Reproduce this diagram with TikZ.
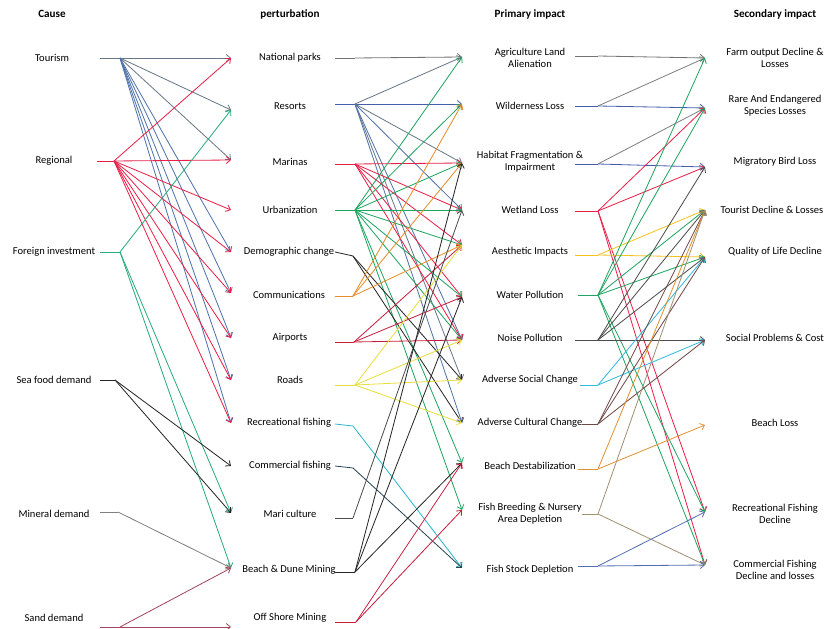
\documentclass[tikz,border=0pt]{standalone}
\usepackage{fontspec}
\setmainfont{Carlito}
\usetikzlibrary{arrows.meta}
\definecolor{tourgray}{RGB}{105,120,135}
\definecolor{tourblue}{RGB}{80,115,170}
\definecolor{regred}{RGB}{232,32,72}
\definecolor{fgreen}{RGB}{40,172,122}
\definecolor{sandred}{RGB}{165,70,92}
\definecolor{urbgreen}{RGB}{30,165,95}
\definecolor{commorange}{RGB}{230,140,40}
\definecolor{airred}{RGB}{200,30,62}
\definecolor{roadyellow}{RGB}{232,222,60}
\definecolor{reccyan}{RGB}{40,182,200}
\definecolor{comdark}{RGB}{40,70,82}
\definecolor{wildblue}{RGB}{72,92,172}
\definecolor{aesyellow}{RGB}{245,195,30}
\definecolor{socblue}{RGB}{50,185,225}
\definecolor{culbrown}{RGB}{112,72,72}
\definecolor{destorange}{RGB}{225,145,50}
\definecolor{breedtan}{RGB}{160,145,115}
\definecolor{stockblue}{RGB}{85,110,178}
\begin{document}
\begin{tikzpicture}[x=0.03cm, y=-0.03cm, font=\fontsize{9}{10.5}\selectfont,
  lbl/.style={align=center, inner sep=1pt},
  hdr/.style={inner sep=1pt, font=\fontsize{9.5}{11}\selectfont\bfseries},
  every edge/.style={draw, line width=0.7pt, -{Straight Barb[length=3.5pt,width=6pt]}},
  every path/.style={line width=0.7pt}]
  \useasboundingbox (0,0) rectangle (827,629);
  % column heads
  \node[hdr] (hc) at (52,14)  {Cause};
  \node[hdr] (hp) at (290,14) {perturbation};
  \node[hdr] (hi) at (530,14) {Primary impact};
  \node[hdr] (hs) at (775,14) {Secondary impact};
  % causes
  \node[lbl] (c1) at (52,58)  {Tourism};
  \node[lbl] (c2) at (54,161) {Regional};
  \node[lbl] (c3) at (54,252) {Foreign investment};
  \node[lbl] (c4) at (54,380) {Sea food demand};
  \node[lbl] (c5) at (54,514) {Mineral demand};
  \node[lbl] (c6) at (54,618) {Sand demand};
  \coordinate (c1b) at (120,58);  \coordinate (c2b) at (114,161);
  \coordinate (c3b) at (120,252); \coordinate (c4b) at (115,380);
  \coordinate (c5b) at (118,512); \coordinate (c6b) at (120,627);
  % perturbations
  \node[lbl] (p1)  at (290,58)  {National parks};
  \node[lbl] (p2)  at (290,106) {Resorts};
  \node[lbl] (p3)  at (290,162) {Marinas};
  \node[lbl] (p4)  at (290,210) {Urbanization};
  \node[lbl] (p5)  at (289,252) {Demographic change};
  \node[lbl] (p6)  at (289,295) {Communications};
  \node[lbl] (p7)  at (290,338) {Airports};
  \node[lbl] (p8)  at (290,380) {Roads};
  \node[lbl] (p9)  at (289,423) {Recreational fishing};
  \node[lbl] (p10) at (290,466) {Commercial fishing};
  \node[lbl] (p11) at (290,514) {Mari culture};
  \node[lbl] (p12) at (289,570) {Beach \& Dune Mining};
  \node[lbl] (p13) at (290,618) {Off Shore Mining};
  \coordinate (p1i)  at (231,58);  \coordinate (p2i)  at (231,110);
  \coordinate (p3i)  at (231,160); \coordinate (p4i)  at (231,210);
  \coordinate (p5i)  at (231,252); \coordinate (p6i)  at (231,293);
  \coordinate (p7i)  at (231,338); \coordinate (p8i)  at (231,380);
  \coordinate (p9i)  at (231,423); \coordinate (p10i) at (231,466);
  \coordinate (p11i) at (231,513); \coordinate (p12i) at (231,568);
  \coordinate (p13i) at (231,627);
  \coordinate (p1b)  at (355,58);  \coordinate (p2b)  at (355,104);
  \coordinate (p3b)  at (355,164); \coordinate (p4b)  at (355,210);
  \coordinate (p5b)  at (353,256); \coordinate (p6b)  at (353,296);
  \coordinate (p7b)  at (354,342); \coordinate (p8b)  at (355,385);
  \coordinate (p9b)  at (353,426); \coordinate (p10b) at (353,468);
  \coordinate (p11b) at (353,518); \coordinate (p12b) at (355,572);
  \coordinate (p13b) at (356,622);
  % primary impacts
  \node[lbl] (i1)  at (530,58)  {Agriculture Land\\Alienation};
  \node[lbl] (i2)  at (530,106) {Wilderness Loss};
  \node[lbl] (i3)  at (530,162) {Habitat Fragmentation \&\\Impairment};
  \node[lbl] (i4)  at (530,210) {Wetland Loss};
  \node[lbl] (i5)  at (530,252) {Aesthetic Impacts};
  \node[lbl] (i6)  at (530,295) {Water Pollution};
  \node[lbl] (i7)  at (530,338) {Noise Pollution};
  \node[lbl] (i8)  at (530,380) {Adverse Social Change};
  \node[lbl] (i9)  at (530,423) {Adverse Cultural Change};
  \node[lbl] (i10) at (530,466) {Beach Destabilization};
  \node[lbl] (i11) at (530,514) {Fish Breeding \& Nursery\\Area Depletion};
  \node[lbl] (i12) at (530,570) {Fish Stock Depletion};
  \coordinate (i1i)  at (462,57);  \coordinate (i2i)  at (462,104);
  \coordinate (i3i)  at (462,163); \coordinate (i4i)  at (462,210);
  \coordinate (i5i)  at (462,245); \coordinate (i6i)  at (462,297);
  \coordinate (i7i)  at (462,340); \coordinate (i8i)  at (462,380);
  \coordinate (i9i)  at (462,423); \coordinate (i10i) at (462,463);
  \coordinate (i11i) at (462,510); \coordinate (i12i) at (462,568);
  \coordinate (i1b)  at (598,56);  \coordinate (i2b)  at (598,106);
  \coordinate (i3b)  at (598,164); \coordinate (i4b)  at (598,211);
  \coordinate (i5b)  at (598,255); \coordinate (i6b)  at (598,295);
  \coordinate (i7b)  at (598,340); \coordinate (i8b)  at (598,385);
  \coordinate (i9b)  at (598,424); \coordinate (i10b) at (598,469);
  \coordinate (i11b) at (598,514); \coordinate (i12b) at (598,566);
  % secondary impacts
  \node[lbl] (s1) at (775,58)  {Farm output Decline \&\\Losses};
  \node[lbl] (s2) at (775,106) {Rare And Endangered\\Species Losses};
  \node[lbl] (s3) at (775,162) {Migratory Bird Loss};
  \node[lbl] (s4) at (772,210) {Tourist Decline \& Losses};
  \node[lbl] (s5) at (775,252) {Quality of Life Decline};
  \node[lbl] (s6) at (775,338) {Social Problems \& Cost};
  \node[lbl] (s7) at (775,423) {Beach Loss};
  \node[lbl] (s8) at (775,514) {Recreational Fishing\\Decline};
  \node[lbl] (s9) at (775,570) {Commercial Fishing\\Decline and losses};
  \coordinate (s1i) at (705,58);  \coordinate (s2i) at (705,108);
  \coordinate (s3i) at (705,167); \coordinate (s4i) at (705,210);
  \coordinate (s5i) at (705,257); \coordinate (s6i) at (705,340);
  \coordinate (s7i) at (705,425); \coordinate (s8i) at (705,512);
  \coordinate (s9i) at (705,565);
  % cause -> perturbation
  \draw[tourgray] (c1b) ++(-20,0) -- (c1b) edge (p1i) edge (p2i) edge (p3i)
    edge[tourblue] (p5i) edge[tourblue] (p6i) edge[tourblue] (p7i)
    edge[tourblue] (p8i) edge[tourblue] (p9i);
  \draw[regred] (c2b) ++(-17,0) -- (c2b) edge (p1i) edge (p3i) edge (p4i)
    edge (p5i) edge (p6i) edge (p7i) edge (p8i) edge (p9i);
  \draw[fgreen] (c3b) ++(-20,0) -- (c3b) edge (p2i) edge (p11i) edge (p12i);
  \draw[black!85] (c4b) ++(-15,0) -- (c4b) edge (p10i) edge (p11i);
  \draw[gray] (c5b) ++(-18,0) -- (c5b) edge (p12i);
  \draw[sandred] (c6b) ++(-20,0) -- (c6b) edge (p12i) edge (p13i);
  % perturbation -> primary impact
  \draw[gray!90!black] (p1b) ++(-20,0) -- (p1b) edge (i1i);
  \draw[wildblue] (p2b) ++(-20,0) -- (p2b) edge (i2i)
    edge[tourgray] (i1i) edge[tourgray] (i3i) edge[tourblue] (i4i)
    edge[tourblue] (i7i) edge[tourgray] (i8i) edge[tourblue] (i9i);
  \draw[regred] (p3b) ++(-20,0) -- (p3b) edge (i3i) edge (i4i) edge (i5i)
    edge (i6i) edge (i7i);
  \draw[urbgreen] (p4b) ++(-20,0) -- (p4b) edge (i1i) edge (i2i) edge (i3i)
    edge (i4i) edge (i5i) edge (i6i) edge (i7i) edge (i10i) edge (i11i);
  \draw[black!85] (p5b) ++(-18,-4) -- (p5b) edge (i8i) edge (i9i);
  \draw[commorange] (p6b) ++(-18,0) -- (p6b) edge (i2i) edge (i3i) edge (i5i);
  \draw[airred] (p7b) ++(-19,0) -- (p7b) edge (i5i) edge (i6i) edge (i7i);
  \draw[roadyellow] (p8b) ++(-20,0) -- (p8b) edge (i5i) edge (i7i) edge (i8i)
    edge (i9i);
  \draw[reccyan] (p9b) ++(-18,-2) -- (p9b) edge (i12i);
  \draw[comdark] (p10b) ++(-18,-2) -- (p10b) edge (i12i);
  \draw[black!70] (p11b) ++(-18,0) -- (p11b) edge (i4i);
  \draw[black!85] (p12b) ++(-20,0) -- (p12b) edge (i3i) edge (i6i) edge (i10i);
  \draw[airred] (p13b) ++(-21,0) -- (p13b) edge (i10i) edge (i11i);
  % primary -> secondary impact
  \draw[gray!90!black] (i1b) ++(-23,0) -- (i1b) edge (s1i);
  \draw[wildblue] (i2b) ++(-23,0) -- (i2b) edge (s2i) edge[gray] (s1i);
  \draw[wildblue] (i3b) ++(-23,0) -- (i3b) edge (s3i) edge[gray] (s2i);
  \draw[regred] (i4b) ++(-23,0) -- (i4b) edge (s2i) edge (s3i) edge (s8i)
    edge (s9i);
  \draw[aesyellow] (i5b) ++(-23,0) -- (i5b) edge (s4i) edge (s5i);
  \draw[urbgreen] (i6b) ++(-20,0) -- (i6b) edge (s1i) edge (s2i) edge (s4i)
    edge (s5i) edge (s8i) edge (s9i);
  \draw[black!70] (i7b) ++(-23,0) -- (i7b) edge (s3i) edge (s4i) edge (s5i)
    edge (s6i);
  \draw[socblue] (i8b) ++(-18,0) -- (i8b) edge (s5i) edge (s6i);
  \draw[culbrown] (i9b) ++(-16,0) -- (i9b) edge (s4i) edge (s5i) edge (s6i);
  \draw[destorange] (i10b) ++(-20,0) -- (i10b) edge (s4i) edge (s7i);
  \draw[breedtan] (i11b) ++(-16,0) -- (i11b) edge (s4i) edge (s9i);
  \draw[stockblue] (i12b) ++(-20,0) -- (i12b) edge (s8i) edge (s9i);
\end{tikzpicture}
\end{document}
